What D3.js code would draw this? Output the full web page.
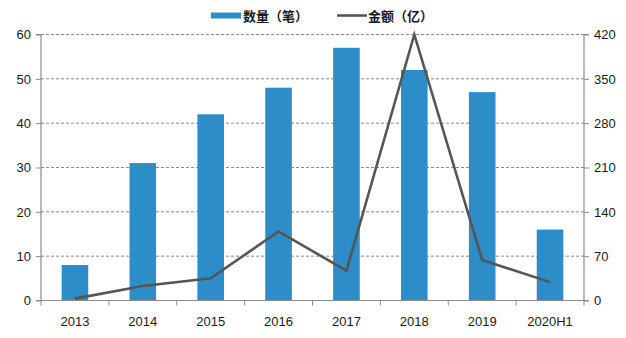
<!DOCTYPE html>
<html><head><meta charset="utf-8">
<script src="https://cdn.jsdelivr.net/npm/d3@7"></script>
<style>
body{margin:0;background:#fff;}
text{font-family:"Liberation Sans","Noto Sans CJK SC",sans-serif;}
</style></head>
<body><svg id="c" width="626" height="338"></svg>
<script>
const categories = ["2013","2014","2015","2016","2017","2018","2019","2020H1"];
const counts = [8, 31, 42, 48, 57, 52, 47, 16];
const amounts = [3, 23, 35, 109, 47, 420, 64, 29];
const leftTicks = [0,10,20,30,40,50,60];
const rightTicks = [0,70,140,210,280,350,420];
const seriesNames = ["数量（笔）","金额（亿）"];

const svg = d3.select("#c");
const L = 41, R = 584, T = 34.5, B = 300.5;
const xb = d3.scaleBand().domain(categories).range([L, R]);
const yL = d3.scaleLinear().domain([0,60]).range([B, T]);
const yR = d3.scaleLinear().domain([0,420]).range([B, T]);

// gridlines
svg.append("g").selectAll("line").data(leftTicks.slice(1)).join("line")
  .attr("x1", L).attr("x2", R).attr("y1", d=>yL(d)).attr("y2", d=>yL(d))
  .attr("stroke", "#8a8a8a").attr("stroke-width", 1).attr("stroke-dasharray", "3,2");

// bars
svg.append("g").selectAll("rect").data(counts).join("rect")
  .attr("x", (d,i)=>xb(categories[i]) + xb.bandwidth()/2 - 13.3)
  .attr("width", 26.6)
  .attr("y", d=>yL(d)).attr("height", d=>B - yL(d))
  .attr("fill", "#2c8dc8");

// line
const line = d3.line().x((d,i)=>xb(categories[i]) + xb.bandwidth()/2).y(d=>yR(d));
svg.append("path").datum(amounts).attr("d", line)
  .attr("fill","none").attr("stroke","#555555").attr("stroke-width",2.6).attr("stroke-linejoin","miter");

// axes
const axisColor = "#8c8c8c";
const gL = svg.append("g").attr("transform", `translate(${L},0)`)
  .call(d3.axisLeft(yL).tickValues(leftTicks).tickSize(5).tickPadding(5));
const gR = svg.append("g").attr("transform", `translate(${R},0)`)
  .call(d3.axisRight(yR).tickValues(rightTicks).tickSize(5).tickPadding(5));
const gX = svg.append("g").attr("transform", `translate(0,${B})`)
  .call(d3.axisBottom(xb).tickSize(0).tickPadding(16));
// x tick marks at band boundaries
svg.append("g").selectAll("line").data(categories.concat(["end"])).join("line")
  .attr("x1", (d,i)=> i < categories.length ? xb(categories[i]) : R)
  .attr("x2", (d,i)=> i < categories.length ? xb(categories[i]) : R)
  .attr("y1", B).attr("y2", B+5).attr("stroke", axisColor);

[gL,gR,gX].forEach(g=>{
  g.selectAll(".domain").attr("stroke", axisColor).attr("stroke-width",1.2);
  g.selectAll(".tick line").attr("stroke", axisColor);
  g.selectAll("text").attr("fill","#1a1a1a").style("font-size","13px");
});
gL.select(".domain").attr("d", `M-5,${T}H0V${B}H-5`);
gR.select(".domain").attr("d", `M5,${T}H0V${B}H5`);
gX.select(".domain").attr("d", `M${L},0H${R}`);

// legend
const lg = svg.append("g");
lg.append("rect").attr("x",211).attr("y",12.5).attr("width",30).attr("height",6).attr("fill","#2c8dc8");
lg.append("text").attr("x",243).attr("y",20.5).text(seriesNames[0])
  .style("font-size","13px").style("font-weight","bold").style("font-family","'Noto Sans CJK SC'").attr("fill","#1a1a1a");
lg.append("line").attr("x1",337).attr("x2",367).attr("y1",15.5).attr("y2",15.5)
  .attr("stroke","#555555").attr("stroke-width",2.6);
lg.append("text").attr("x",368).attr("y",20.5).text(seriesNames[1])
  .style("font-size","13px").style("font-weight","bold").style("font-family","'Noto Sans CJK SC'").attr("fill","#1a1a1a");
</script>
</body></html>
